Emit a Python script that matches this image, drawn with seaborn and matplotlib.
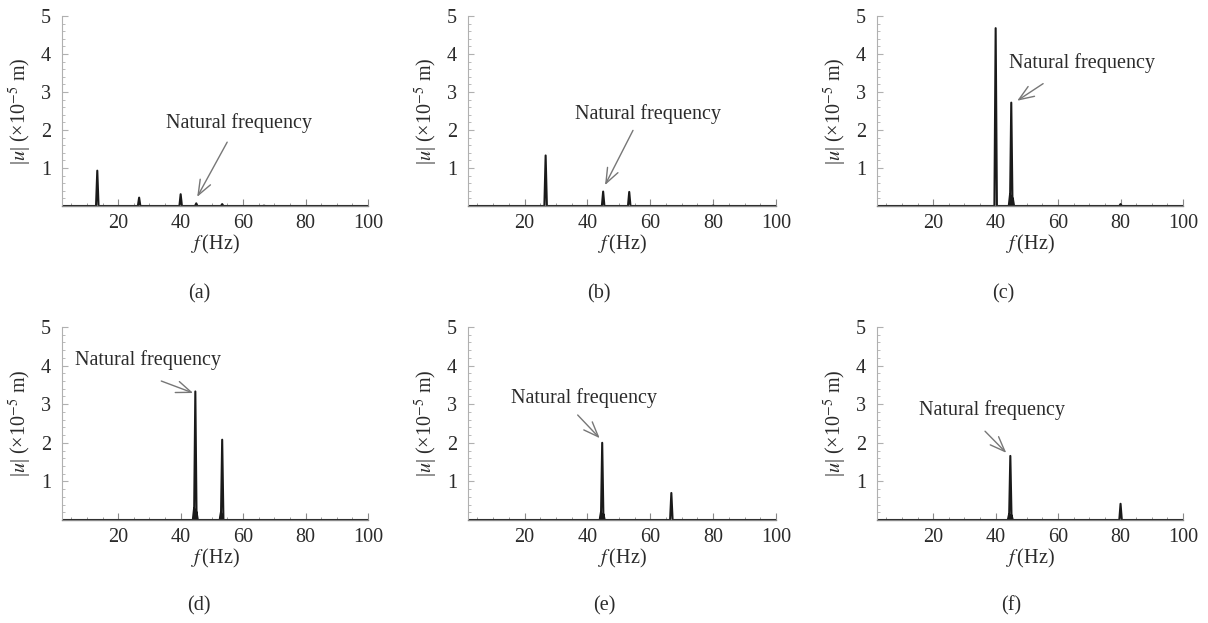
import numpy as np
import pandas as pd
import matplotlib
matplotlib.use("Agg")
import matplotlib.pyplot as plt
import seaborn as sns
from matplotlib.ticker import MultipleLocator

sns.set_theme(style="white")
plt.rcParams['font.family'] = ['Liberation Serif', 'DejaVu Serif']
plt.rcParams['mathtext.fontset'] = 'stix'

# ---- data ----
panel_labels = ["(a)", "(b)", "(c)", "(d)", "(e)", "(f)"]
peak_freqs = [
    [13.3, 26.7, 40.0, 45.0, 53.3, 66.7],
    [26.7, 45.0, 53.3, 80.0],
    [40.0, 44.6, 45.0, 45.5, 80.0],
    [44.3, 44.7, 45.1, 52.9, 53.3],
    [44.3, 44.7, 45.1, 66.7],
    [44.3, 44.7, 45.1, 80.0],
]
peak_amps = [
    [0.93, 0.22, 0.31, 0.07, 0.05, 0.01],
    [1.33, 0.38, 0.37, 0.01],
    [4.68, 0.30, 2.72, 0.20, 0.05],
    [0.30, 3.33, 0.20, 0.20, 2.08],
    [0.20, 2.00, 0.15, 0.70],
    [0.15, 1.66, 0.12, 0.42],
]
note_text = "Natural frequency"
note_xy = [(58.7, 2.17), (59.3, 2.43), (67.7, 3.75), (29.4, 4.15), (38.8, 3.16), (38.9, 2.85)]
arrow_tail = [(54.9, 1.68), (54.5, 1.99), (55.2, 3.22), (33.8, 3.60), (36.9, 2.72), (36.6, 2.30)]
arrow_head = [(45.3, 0.24), (45.6, 0.55), (46.9, 2.77), (44.0, 3.29), (43.9, 2.12), (43.4, 1.74)]
x_range = (2, 100)
y_range = (0, 5)
x_ticks = [20, 40, 60, 80, 100]
y_ticks = [1, 2, 3, 4, 5]

W, H = 1208, 623
fig = plt.figure(figsize=(W / 100, H / 100), dpi=100)

lefts = [62, 468, 877]
widths = [306, 308, 306]
row_top = [16, 327]
row_bot = [206, 520]
label_pos = [(199, 294), (599, 294), (1003, 294), (199, 606), (604, 606), (1011, 606)]

x_axis_col = "#8a8a8a"
y_axis_col = "#b0b0b0"
txt_col = "#2b2b2b"
fs = 14.5
half_w = 0.4

for i in range(6):
    r, c = divmod(i, 3)
    l, w = lefts[c], widths[c]
    t, b = row_top[r], row_bot[r]
    ax = fig.add_axes([l / W, 1 - b / H, w / W, (b - t) / H])

    xs, ys = [x_range[0]], [0.0]
    for f, a in sorted(zip(peak_freqs[i], peak_amps[i])):
        xs += [f - half_w, f, f + half_w]
        ys += [0.0, a, 0.0]
    xs.append(x_range[1]); ys.append(0.0)
    df = pd.DataFrame({"f": xs, "u": ys})
    sns.lineplot(data=df, x="f", y="u", ax=ax, color="#1a1a1a", lw=1.5,
                 sort=False, estimator=None)

    ax.set_xlim(*x_range)
    ax.set_ylim(*y_range)
    ax.set_xticks(x_ticks)
    ax.set_yticks(y_ticks)
    ax.xaxis.set_minor_locator(MultipleLocator(5))
    ax.yaxis.set_minor_locator(MultipleLocator(0.2))
    for s in ["top", "right"]:
        ax.spines[s].set_visible(False)
    ax.spines["bottom"].set_color(x_axis_col)
    ax.spines["left"].set_color(y_axis_col)
    ax.spines["bottom"].set_linewidth(1.0)
    ax.spines["left"].set_linewidth(0.8)
    ax.tick_params(axis="x", which="major", direction="in", length=5,
                   width=0.8, color=x_axis_col, labelsize=fs, labelcolor=txt_col, pad=6)
    ax.tick_params(axis="y", which="major", direction="in", length=4,
                   width=0.8, color=y_axis_col, labelsize=fs, labelcolor=txt_col, pad=8)
    ax.tick_params(axis="x", which="minor", direction="in", length=2.5,
                   width=0.6, color=x_axis_col)
    ax.tick_params(axis="y", which="minor", direction="in", length=2,
                   width=0.6, color=y_axis_col)
    ax.tick_params(axis="y", which="both", left=True)
    ax.tick_params(axis="x", which="both", bottom=True)
    ax.set_xlabel(r"$f\,$(Hz)", fontsize=fs, color=txt_col, labelpad=0)
    ax.set_ylabel(r"|$u$| (×10$^{-5}$ m)", fontsize=fs,
                  color=txt_col, labelpad=5)
    ax.set_facecolor("white")

    ax.text(note_xy[i][0], note_xy[i][1], note_text, fontsize=fs, color=txt_col,
            ha="center", va="center")
    ax.annotate("", xy=arrow_head[i], xytext=arrow_tail[i],
                arrowprops=dict(arrowstyle="->,head_length=0.9,head_width=0.35",
                                color="#777777", lw=1.0, shrinkA=0, shrinkB=0))

    lx, ly = label_pos[i]
    fig.text(lx / W, 1 - ly / H, panel_labels[i], fontsize=fs, color=txt_col,
             ha="center", va="center")

fig.savefig("out.png", dpi=100, facecolor="white")
